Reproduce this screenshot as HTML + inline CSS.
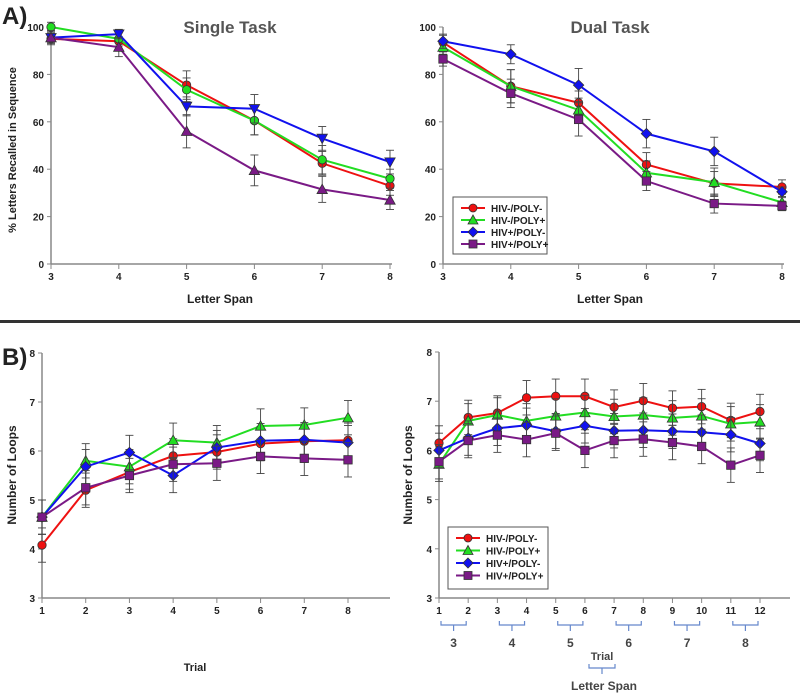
<!DOCTYPE html>
<html><head><meta charset="utf-8"><style>
body{margin:0;background:#fff;}
svg{display:block;font-family:"Liberation Sans",Arial,sans-serif;}
</style></head><body>
<svg id="fig" width="800" height="694" viewBox="0 0 800 694">
<text x="2" y="24" font-size="24" font-weight="bold" fill="#222">A)</text>
<text x="2" y="365" font-size="24" font-weight="bold" fill="#222">B)</text>
<rect x="0" y="320" width="800" height="3" fill="#333"/>
<text x="230" y="33" font-size="17" font-weight="bold" fill="#555" text-anchor="middle">Single Task</text>
<text x="610" y="33" font-size="17" font-weight="bold" fill="#555" text-anchor="middle">Dual Task</text>
<text x="220" y="303" font-size="12" font-weight="bold" fill="#222" text-anchor="middle">Letter Span</text>
<text x="610" y="303" font-size="12" font-weight="bold" fill="#222" text-anchor="middle">Letter Span</text>
<text transform="translate(16,150) rotate(-90)" font-size="11" font-weight="bold" fill="#222" text-anchor="middle">% Letters Recalled in Sequence</text>
<text transform="translate(16,475) rotate(-90)" font-size="12" font-weight="bold" fill="#222" text-anchor="middle">Number of Loops</text>
<text transform="translate(412,475) rotate(-90)" font-size="12" font-weight="bold" fill="#222" text-anchor="middle">Number of Loops</text>
<text x="195" y="671" font-size="11" font-weight="bold" fill="#222" text-anchor="middle">Trial</text>
<text x="602" y="660" font-size="11" font-weight="bold" fill="#444" text-anchor="middle">Trial</text>
<text x="604" y="690" font-size="12" font-weight="bold" fill="#444" text-anchor="middle">Letter Span</text>
</svg>
<script>
const seriesNames=["HIV-/POLY-","HIV-/POLY+","HIV+/POLY-","HIV+/POLY+"];
const colors=["#ee1111","#22dd22","#1111ee","#7a1a86"];
const spanCats=[3,4,5,6,7,8];
const singleRed=[95,94,75.5,60.5,42.5,33];
const singleGreen=[100,95,73.5,60.5,44,36];
const singleBlue=[95.5,97,66.5,65.5,53,43];
const singlePurple=[95.5,91.5,56,39.5,31.5,27];
const singleErr=[[2,4,6,6,5,4],[2,3,5,6,6,4],[2,2,4,6,5,5],[3,4,7,6.5,5.5,4]];
const dualRed=[93.5,75,68,42,34,32.5];
const dualGreen=[91.5,75,65,38.5,34.5,26];
const dualBlue=[94,88.5,75.5,55,47.5,30.5];
const dualPurple=[86.5,72,61,35,25.5,24.5];
const dualErr=[[3,7,5,5,5,3],[3,7,5,5,6,2],[3,4,7,6,6,2],[3,6,7,4,4,2]];
const aTicks=[0,20,40,60,80,100];
const trialCats=[1,2,3,4,5,6,7,8];
const bLeftRed=[4.08,5.2,5.57,5.9,5.98,6.15,6.2,6.22];
const bLeftGreen=[4.65,5.8,5.68,6.22,6.17,6.51,6.53,6.68];
const bLeftBlue=[4.65,5.68,5.97,5.5,6.07,6.21,6.23,6.17];
const bLeftPurple=[4.65,5.25,5.5,5.73,5.75,5.89,5.85,5.82];
const trial12=[1,2,3,4,5,6,7,8,9,10,11,12];
const bRightRed=[6.15,6.67,6.76,7.07,7.1,7.1,6.88,7.01,6.86,6.89,6.61,6.79];
const bRightGreen=[5.72,6.6,6.72,6.6,6.7,6.77,6.69,6.72,6.66,6.7,6.54,6.58];
const bRightBlue=[6.0,6.25,6.45,6.51,6.39,6.5,6.4,6.41,6.39,6.37,6.32,6.14];
const bRightPurple=[5.77,6.2,6.31,6.22,6.35,6.0,6.2,6.23,6.16,6.08,5.7,5.9];
const bErr=0.35;
const bTicks=[3,4,5,6,7,8];
const spanGroups=[3,4,5,6,7,8];

const NS="http://www.w3.org/2000/svg";
const svg=document.getElementById('fig');
function mk(tag,attrs,parent){const e=document.createElementNS(NS,tag);for(const k in attrs)e.setAttribute(k,attrs[k]);(parent||svg).appendChild(e);return e;}

function marker(g,shape,x,y,c,r){
  let e;
  if(shape==='circle')e=mk('circle',{cx:x,cy:y,r:r,fill:c,stroke:'#333','stroke-width':0.8},g);
  else if(shape==='square')e=mk('rect',{x:x-r,y:y-r,width:2*r,height:2*r,fill:c,stroke:'#333','stroke-width':0.8},g);
  else if(shape==='diamond')e=mk('polygon',{points:`${x},${y-r-1} ${x+r+1},${y} ${x},${y+r+1} ${x-r-1},${y}`,fill:c,stroke:'#333','stroke-width':0.8},g);
  else if(shape==='up')e=mk('polygon',{points:`${x},${y-r-1} ${x+r+1},${y+r} ${x-r-1},${y+r}`,fill:c,stroke:'#333','stroke-width':0.8},g);
  else e=mk('polygon',{points:`${x},${y+r+1} ${x+r+1},${y-r} ${x-r-1},${y-r}`,fill:c,stroke:'#333','stroke-width':0.8},g);
  return e;
}

function panel(p){
  const xs=v=>p.x0+(v-p.c0)*(p.x1-p.x0)/(p.c1-p.c0);
  const ys=v=>p.y0-(v-p.v0)*(p.y0-p.y1)/(p.v1-p.v0);
  const ax=mk('g',{});
  
  
  mk('line',{x1:p.x0,y1:ys(p.v1),x2:p.x0,y2:ys(p.v0),stroke:'#888','stroke-width':1.5},ax);
  mk('line',{x1:p.x0,y1:ys(p.v0),x2:p.xend,y2:ys(p.v0),stroke:'#888','stroke-width':1.5},ax);
  p.yt.forEach(t=>{
    mk('line',{x1:p.x0-4,y1:ys(t),x2:p.x0,y2:ys(t),stroke:'#888'},ax);
    const tx=mk('text',{x:p.x0-7,y:ys(t)+4,'font-size':10,'font-weight':'bold',fill:'#222','text-anchor':'end'},ax);
    tx.textContent=t;
    
    
  });
  p.cats.forEach(c=>{
    mk('line',{x1:xs(c),y1:ys(p.v0),x2:xs(c),y2:ys(p.v0)+5,stroke:'#888'},ax);
    const tx=mk('text',{x:xs(c),y:ys(p.v0)+16,'font-size':10,'font-weight':'bold',fill:'#222','text-anchor':'middle'},ax);
    tx.textContent=c;
    
    
  });
  p.series.forEach((s,i)=>{
    const g=mk('g',{});
    
    
    s.forEach((v,j)=>{
      const e=Array.isArray(p.err)?p.err[i][j]:p.err;
      const x=xs(p.cats[j]);
      mk('line',{x1:x,y1:ys(v-e),x2:x,y2:ys(v+e),stroke:'#444','stroke-width':0.9},g);
      mk('line',{x1:x-4,y1:ys(v-e),x2:x+4,y2:ys(v-e),stroke:'#444','stroke-width':0.9},g);
      mk('line',{x1:x-4,y1:ys(v+e),x2:x+4,y2:ys(v+e),stroke:'#444','stroke-width':0.9},g);
    });
    const pts=s.map((v,j)=>xs(p.cats[j])+','+ys(v)).join(' ');
    mk('polyline',{points:pts,fill:'none',stroke:colors[i],'stroke-width':2},g);
    s.forEach((v,j)=>{
      const m=marker(g,p.shapes[i],xs(p.cats[j]),ys(v),colors[i],4.2);
      
      
    });
  });
  if(p.legend){
    const L=p.legend;
    const g=mk('g',{});
    
    
    mk('rect',{x:L.x,y:L.y,width:L.w,height:L.h,fill:'#fff',stroke:'#555','stroke-width':1},g);
    seriesNames.forEach((n,i)=>{
      const yy=L.y+11+i*L.dy;
      const e=mk('g',{},g);
      
      
      mk('line',{x1:L.x+8,y1:yy,x2:L.x+32,y2:yy,stroke:colors[i],'stroke-width':2},e);
      marker(e,p.shapes[i],L.x+20,yy,colors[i],4);
      const t=mk('text',{x:L.x+38,y:yy+4,'font-size':10,'font-weight':'bold',fill:'#222'},e);
      t.textContent=n;
    });
  }
}
const dualShapes=['circle','up','diamond','square'];
panel({name:'single-task',x0:51,x1:390,c0:3,c1:8,y0:264,y1:27,v0:0,v1:100,xend:392,cats:spanCats,yt:aTicks,
  series:[singleRed,singleGreen,singleBlue,singlePurple],err:singleErr,shapes:['circle','circle','down','up']});
panel({name:'dual-task',x0:443,x1:782,c0:3,c1:8,y0:264,y1:27,v0:0,v1:100,xend:784,cats:spanCats,yt:aTicks,
  series:[dualRed,dualGreen,dualBlue,dualPurple],err:dualErr,shapes:dualShapes,
  legend:{x:453,y:197,w:94,h:57,dy:12}});
panel({name:'loops-single',x0:42,x1:348,c0:1,c1:8,y0:598,y1:353,v0:3,v1:8,xend:390,cats:trialCats,yt:bTicks,
  series:[bLeftRed,bLeftGreen,bLeftBlue,bLeftPurple],err:bErr,shapes:dualShapes});
panel({name:'loops-dual',x0:439,x1:760,c0:1,c1:12,y0:598,y1:352,v0:3,v1:8,xend:790,cats:trial12,yt:bTicks,
  series:[bRightRed,bRightGreen,bRightBlue,bRightPurple],err:bErr,shapes:dualShapes,
  legend:{x:448,y:527,w:100,h:62,dy:12.5}});
// span brackets
const bx=v=>439+(v-1)*(760-439)/11;
spanGroups.forEach((s,k)=>{
  const a=bx(2*k+1),b=bx(2*k+2);
  const g=mk('g',{});
  
  
  const m=(a+b)/2;
  mk('path',{d:`M${a+2},621 L${a+2},625 L${b-2},625 L${b-2},621 M${m},625 L${m},631`,fill:'none',stroke:'#6688cc','stroke-width':1.2},g);
  const t=mk('text',{x:m,y:647,'font-size':12,'font-weight':'bold',fill:'#444','text-anchor':'middle'},g);
  t.textContent=s;
});
mk('path',{d:'M589,664 L589,668 L615,668 L615,664 M602,668 L602,674',fill:'none',stroke:'#6688cc','stroke-width':1.2});
</script>
</body></html>
